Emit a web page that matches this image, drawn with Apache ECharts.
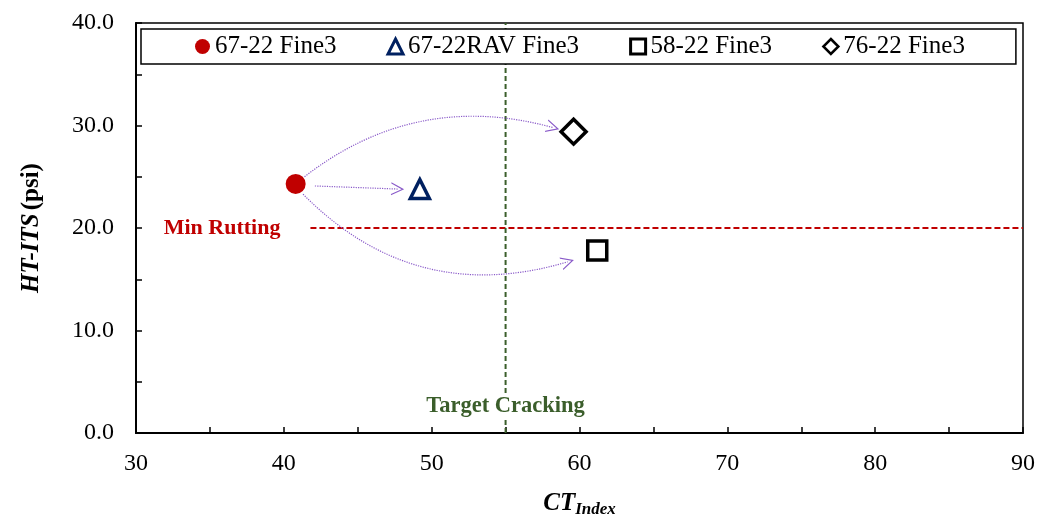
<!DOCTYPE html>
<html><head><meta charset="utf-8">
<script src="https://cdn.jsdelivr.net/npm/echarts@6/dist/echarts.min.js"></script>
<style>html,body{margin:0;padding:0;background:#fff;overflow:hidden}#c{width:1039px;height:523px}</style>
</head><body><div id="c"></div>
<script>
// Data
const seriesNames = ['67-22 Fine3', '67-22RAV Fine3', '58-22 Fine3', '76-22 Fine3'];
const ctIndex = [40.8, 49.2, 61.2, 59.6];
const htIts = [24.3, 23.8, 17.8, 29.4];
const minRutting = 20.0;
const rutLineStartX = 41.8;
const targetCracking = 55;
// arrows (data coordinates)
const arrowStarts = [[41.4, 25.0], [42.1, 24.1], [41.3, 23.3]];
const arrowEnds = [[58.2, 29.8], [47.7, 23.8], [59.2, 16.7]];
const arrowCurve = [0.25, 0, -0.3];
const xTicks = [30, 40, 50, 60, 70, 80, 90];
const yTicks = [0, 10, 20, 30, 40];

const FONT = 'Liberation Serif';
const symbols = ['circle', 'triangle', 'rect', 'diamond'];
const sizes = [20, 19, 19, 25];
const styles = [
  {color: '#C00000', borderWidth: 0, opacity: 1},
  {color: '#ffffff', borderColor: '#002060', borderWidth: 3.5, opacity: 1},
  {color: '#ffffff', borderColor: '#000000', borderWidth: 3.5, opacity: 1},
  {color: '#ffffff', borderColor: '#000000', borderWidth: 3.5, opacity: 1}
];
const legendIconStyles = [
  {color: '#C00000', borderWidth: 0},
  {color: '#ffffff', borderColor: '#002060', borderWidth: 3},
  {color: '#ffffff', borderColor: '#000000', borderWidth: 3},
  {color: '#ffffff', borderColor: '#000000', borderWidth: 2.5}
];

const scatterSeries = seriesNames.map((n, i) => ({
  name: n, type: 'scatter', symbol: symbols[i], symbolSize: sizes[i],
  itemStyle: styles[i], z: 5,
  data: [[ctIndex[i], htIts[i]]]
}));

const chevron = 'path://M0,12 L5,0 L10,12 L9,12 L5,2.4 L1,12 Z';

const option = {
  animation: false,
  backgroundColor: '#fff',
  textStyle: {fontFamily: FONT},
  grid: {left: 136, right: 16, top: 23, bottom: 81, show: true, borderColor: '#000', borderWidth: 1.5},
  legend: {
    data: seriesNames.map((n, i) => ({name: n, icon: symbols[i], itemStyle: legendIconStyles[i]})),
    left: 141, top: 29,
    padding: [5, 51, 5, 54], itemGap: 50, itemWidth: 15, itemHeight: 15,
    borderColor: '#000', borderWidth: 1.5, backgroundColor: '#fff',
    textStyle: {fontFamily: FONT, fontSize: 25, color: '#000'}, z: 20
  },
  xAxis: {
    type: 'value', min: 30, max: 90, interval: 5,
    axisLine: {lineStyle: {color: '#000', width: 2}},
    axisTick: {inside: true, length: 6, lineStyle: {color: '#000', width: 1.5}},
    splitLine: {show: false},
    axisLabel: {color: '#000', fontFamily: FONT, fontSize: 24, margin: 19,
      formatter: v => xTicks.indexOf(v) >= 0 ? String(v) : ''},
    name: '{a|CT}{b|Index}', nameLocation: 'middle', nameGap: 56,
    nameTextStyle: {rich: {
      a: {fontFamily: FONT, fontSize: 25, fontWeight: 'bold', fontStyle: 'italic', color: '#000'},
      b: {fontFamily: FONT, fontSize: 17, fontWeight: 'bold', fontStyle: 'italic', color: '#000', padding: [12, 0, 0, 0]}
    }}
  },
  yAxis: {
    type: 'value', min: 0, max: 40, interval: 5,
    axisLine: {lineStyle: {color: '#000', width: 2}},
    axisTick: {inside: true, length: 6, lineStyle: {color: '#000', width: 1.5}},
    splitLine: {show: false},
    axisLabel: {color: '#000', fontFamily: FONT, fontSize: 24, margin: 22,
      formatter: v => yTicks.indexOf(v) >= 0 ? v.toFixed(1) : ''},
    name: '{a|HT-ITS} {b|(psi)}', nameLocation: 'middle', nameGap: 92, nameRotate: 90,
    nameTextStyle: {rich: {
      a: {fontFamily: FONT, fontSize: 25, fontWeight: 'bold', fontStyle: 'italic', color: '#000'},
      b: {fontFamily: FONT, fontSize: 25, fontWeight: 'bold', color: '#000'}
    }}
  },
  series: [
    {
      type: 'line', name: 'minrut', symbol: 'circle', symbolSize: 0, showSymbol: true, silent: true, z: 2,
      itemStyle: {color: '#C00000'},
      lineStyle: {color: '#C00000', width: 2, type: [6, 3]},
      data: [
        {value: [rutLineStartX, minRutting],
         label: {show: true, position: 'left', distance: 30, formatter: 'Min Rutting',
           color: '#C00000', fontFamily: FONT, fontSize: 22, fontWeight: 'bold'}},
        [90, minRutting]
      ]
    },
    {
      type: 'line', name: 'targetcrack', symbol: 'circle', symbolSize: 0, showSymbol: true, silent: true, z: 2,
      itemStyle: {color: '#3B5E2B'},
      lineStyle: {color: '#3B5E2B', width: 2, type: [5, 3]},
      data: [
        {value: [targetCracking, 0],
         label: {show: true, position: 'top', distance: 13, formatter: 'Target Cracking',
           color: '#3B5E2B', fontFamily: FONT, fontSize: 22.5, fontWeight: 'bold',
           backgroundColor: '#fff', padding: [2, 2, 2, 2]}},
        [targetCracking, 40]
      ]
    },
    {
      type: 'lines', coordinateSystem: 'cartesian2d', silent: true, z: 3,
      symbol: ['none', chevron], symbolSize: 13,
      data: arrowStarts.map((s, i) => ({
        coords: [s, arrowEnds[i]],
        lineStyle: {curveness: arrowCurve[i]}
      })),
      lineStyle: {color: '#8A5BC9', width: 1.2, type: 'dotted', opacity: 1}
    },
    ...scatterSeries
  ]
};
const chart = echarts.init(document.getElementById('c'), null, {renderer: 'canvas'});
chart.setOption(option);
</script>
</body></html>
